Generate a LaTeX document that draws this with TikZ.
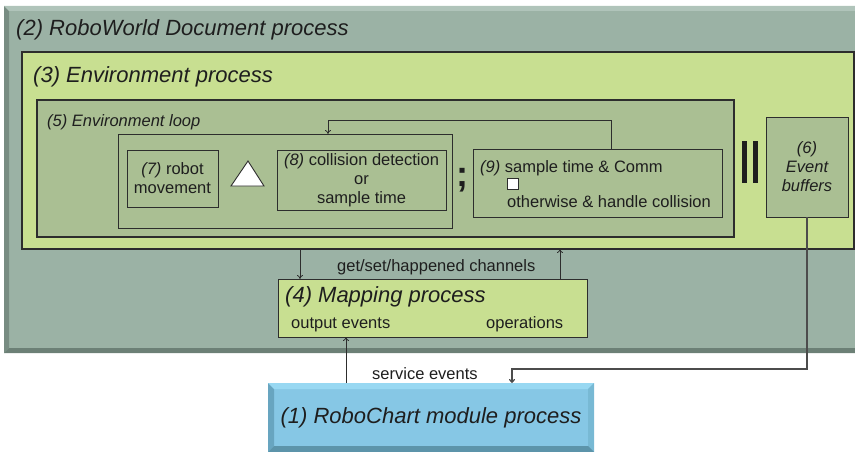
\documentclass[tikz,border=0pt]{standalone}
\usepackage{fontspec}
\setmainfont{Liberation Sans}
\usetikzlibrary{arrows.meta,calc}
\definecolor{worldc}{RGB}{155,178,165}
\definecolor{worldlt}{RGB}{176,196,186}
\definecolor{worlddk}{RGB}{120,140,130}
\definecolor{worlddk2}{RGB}{108,128,118}
\definecolor{envc}{RGB}{200,223,145}
\definecolor{loopc}{RGB}{170,191,147}
\definecolor{bluec}{RGB}{134,199,229}
\definecolor{bluelt}{RGB}{152,216,242}
\definecolor{bluedk}{RGB}{104,165,192}
\definecolor{bluedk2}{RGB}{92,148,170}
\definecolor{bluer}{RGB}{120,185,212}
\definecolor{edge}{RGB}{45,45,45}
\definecolor{txt}{RGB}{30,30,30}
\begin{document}
\begin{tikzpicture}[x=1pt,y=-1pt,
  box/.style={draw=edge, line width=0.9pt, anchor=north west, inner sep=0pt, outer sep=0pt},
  bigtitle/.style={anchor=base west, inner sep=0pt, font=\fontsize{22}{26}\selectfont\itshape, text=txt},
  lbl/.style={inner sep=0pt, font=\fontsize{16.5}{19}\selectfont, text=txt},
  inbox/.style={box, align=center, font=\fontsize{16.5}{19}\selectfont, text=txt},
  arr/.style={draw=edge, line width=0.8pt, -{To[length=4pt,width=6pt]}},
]
\useasboundingbox (0,0) rectangle (855,452);
% (2) outer world box with bevel
\node[box, draw=none, fill=worldc, minimum width=851pt, minimum height=347pt] (world) at (4,6) {};
\fill[worlddk] (world.north west) -- ++(5,5) -- ($(world.south west)+(5,-5)$) -- (world.south west) -- cycle;
\fill[worldlt] (world.north west) -- (world.north east) -- ++(0,5) -- ($(world.north west)+(5,5)$) -- cycle;
\fill[worlddk2] (world.south west) -- ($(world.south west)+(5,-5)$) -- ($(world.south east)+(0,-5)$) -- (world.south east) -- cycle;
\node[bigtitle] (worldt) at (16,36) {(2) RoboWorld Document process};
% (3) environment
\node[box, fill=envc, line width=1.2pt, minimum width=832pt, minimum height=197pt] (env) at (22,52) {};
\node[bigtitle] (envt) at (33,83) {(3) Environment process};
% (5) environment loop
\node[box, fill=loopc, line width=1.1pt, minimum width=697pt, minimum height=137pt] (loop) at (37,100) {};
\node[lbl, anchor=base west, font=\fontsize{16.5}{19}\selectfont\itshape] (loopt) at (47,127) {(5) Environment loop};
% inner box
\node[box, minimum width=334pt, minimum height=94pt] (inner) at (118,134) {};
\node[inbox, minimum width=91pt, minimum height=57pt] (n7) at (127,150) {\textit{(7)} robot\\movement};
\node[inbox, minimum width=169pt, minimum height=60pt] (n8) at (277,150) {\textit{(8)} collision detection\\or\\sample time};
\draw[edge, line width=0.9pt, fill=white] (248,161) -- (231,186) -- (264,186) -- cycle;
\node[inner sep=0pt, font=\fontsize{36}{36}\selectfont\bfseries, text=txt] (semi) at (462,180) {;};
% (9)
\node[box, minimum width=249pt, minimum height=68pt] (n9) at (473,149) {};
\node[lbl, anchor=base west] (n9a) at (480,172) {\textit{(9)} sample time \& Comm};
\node[box, fill=white, draw=edge, line width=0.9pt, minimum width=11pt, minimum height=11pt] (sq) at (507,178) {};
\node[lbl, anchor=base west] (n9b) at (507,207) {otherwise \& handle collision};
% parallel bars
\fill[txt] (742,141) rectangle (747,183);
\fill[txt] (753,141) rectangle (758,183);
% (6)
\node[inbox, fill=loopc, minimum width=82pt, minimum height=100pt, font=\fontsize{16.5}{19}\selectfont\itshape] (n6) at (766,117) {(6)\\Event\\buffers};
% loop arrow
\coordinate (lp1) at (611,120);
\coordinate (lp2) at (328,120);
\draw[arr] (n9.north -| lp1) -- (lp1) -- (lp2) -- (inner.north -| lp2);
% (4) mapping
\node[box, fill=envc, minimum width=309pt, minimum height=58pt] (mapping) at (278,279) {};
\node[bigtitle] (mapt) at (285,302) {(4) Mapping process};
\node[lbl, anchor=base west] (outev) at (291,328) {output events};
\node[lbl, anchor=base west] (ops) at (486,328) {operations};
\node[lbl, anchor=base west] (getset) at (337,271) {get/set/happened channels};
% (1) robochart
\node[box, draw=none, fill=bluec, minimum width=326pt, minimum height=69pt] (robo) at (268,383) {};
\fill[bluedk] (robo.north west) -- ++(6,6) -- ($(robo.south west)+(6,-6)$) -- (robo.south west) -- cycle;
\fill[bluelt] (robo.north west) -- (robo.north east) -- ++(-6,6) -- ($(robo.north west)+(6,6)$) -- cycle;
\fill[bluer] (robo.north east) -- ++(-6,6) -- ($(robo.south east)+(-6,-6)$) -- (robo.south east) -- cycle;
\fill[bluedk2] (robo.south west) -- ($(robo.south west)+(6,-6)$) -- ($(robo.south east)+(-6,-6)$) -- (robo.south east) -- cycle;
\node[inner sep=0pt, font=\fontsize{22}{26}\selectfont\itshape, text=txt] (robot) at (robo.center) {(1) RoboChart module process};
\node[lbl, anchor=base west] (service) at (372,379) {service events};
% connectors
\coordinate (c300) at (300,0);
\coordinate (c560) at (560,0);
\coordinate (c346) at (346,0);
\draw[arr] (env.south -| c300) -- (mapping.north -| c300);
\draw[arr] (mapping.north -| c560) -- (env.south -| c560);
\draw[arr] (robo.north -| c346) -- (mapping.south -| c346);
\coordinate (b1) at (807,369);
\coordinate (b2) at (512,369);
\draw[arr, draw=black!70, line width=1.2pt] (n6.south) -- (b1) -- (b2) -- (robo.north -| b2);
\end{tikzpicture}
\end{document}
